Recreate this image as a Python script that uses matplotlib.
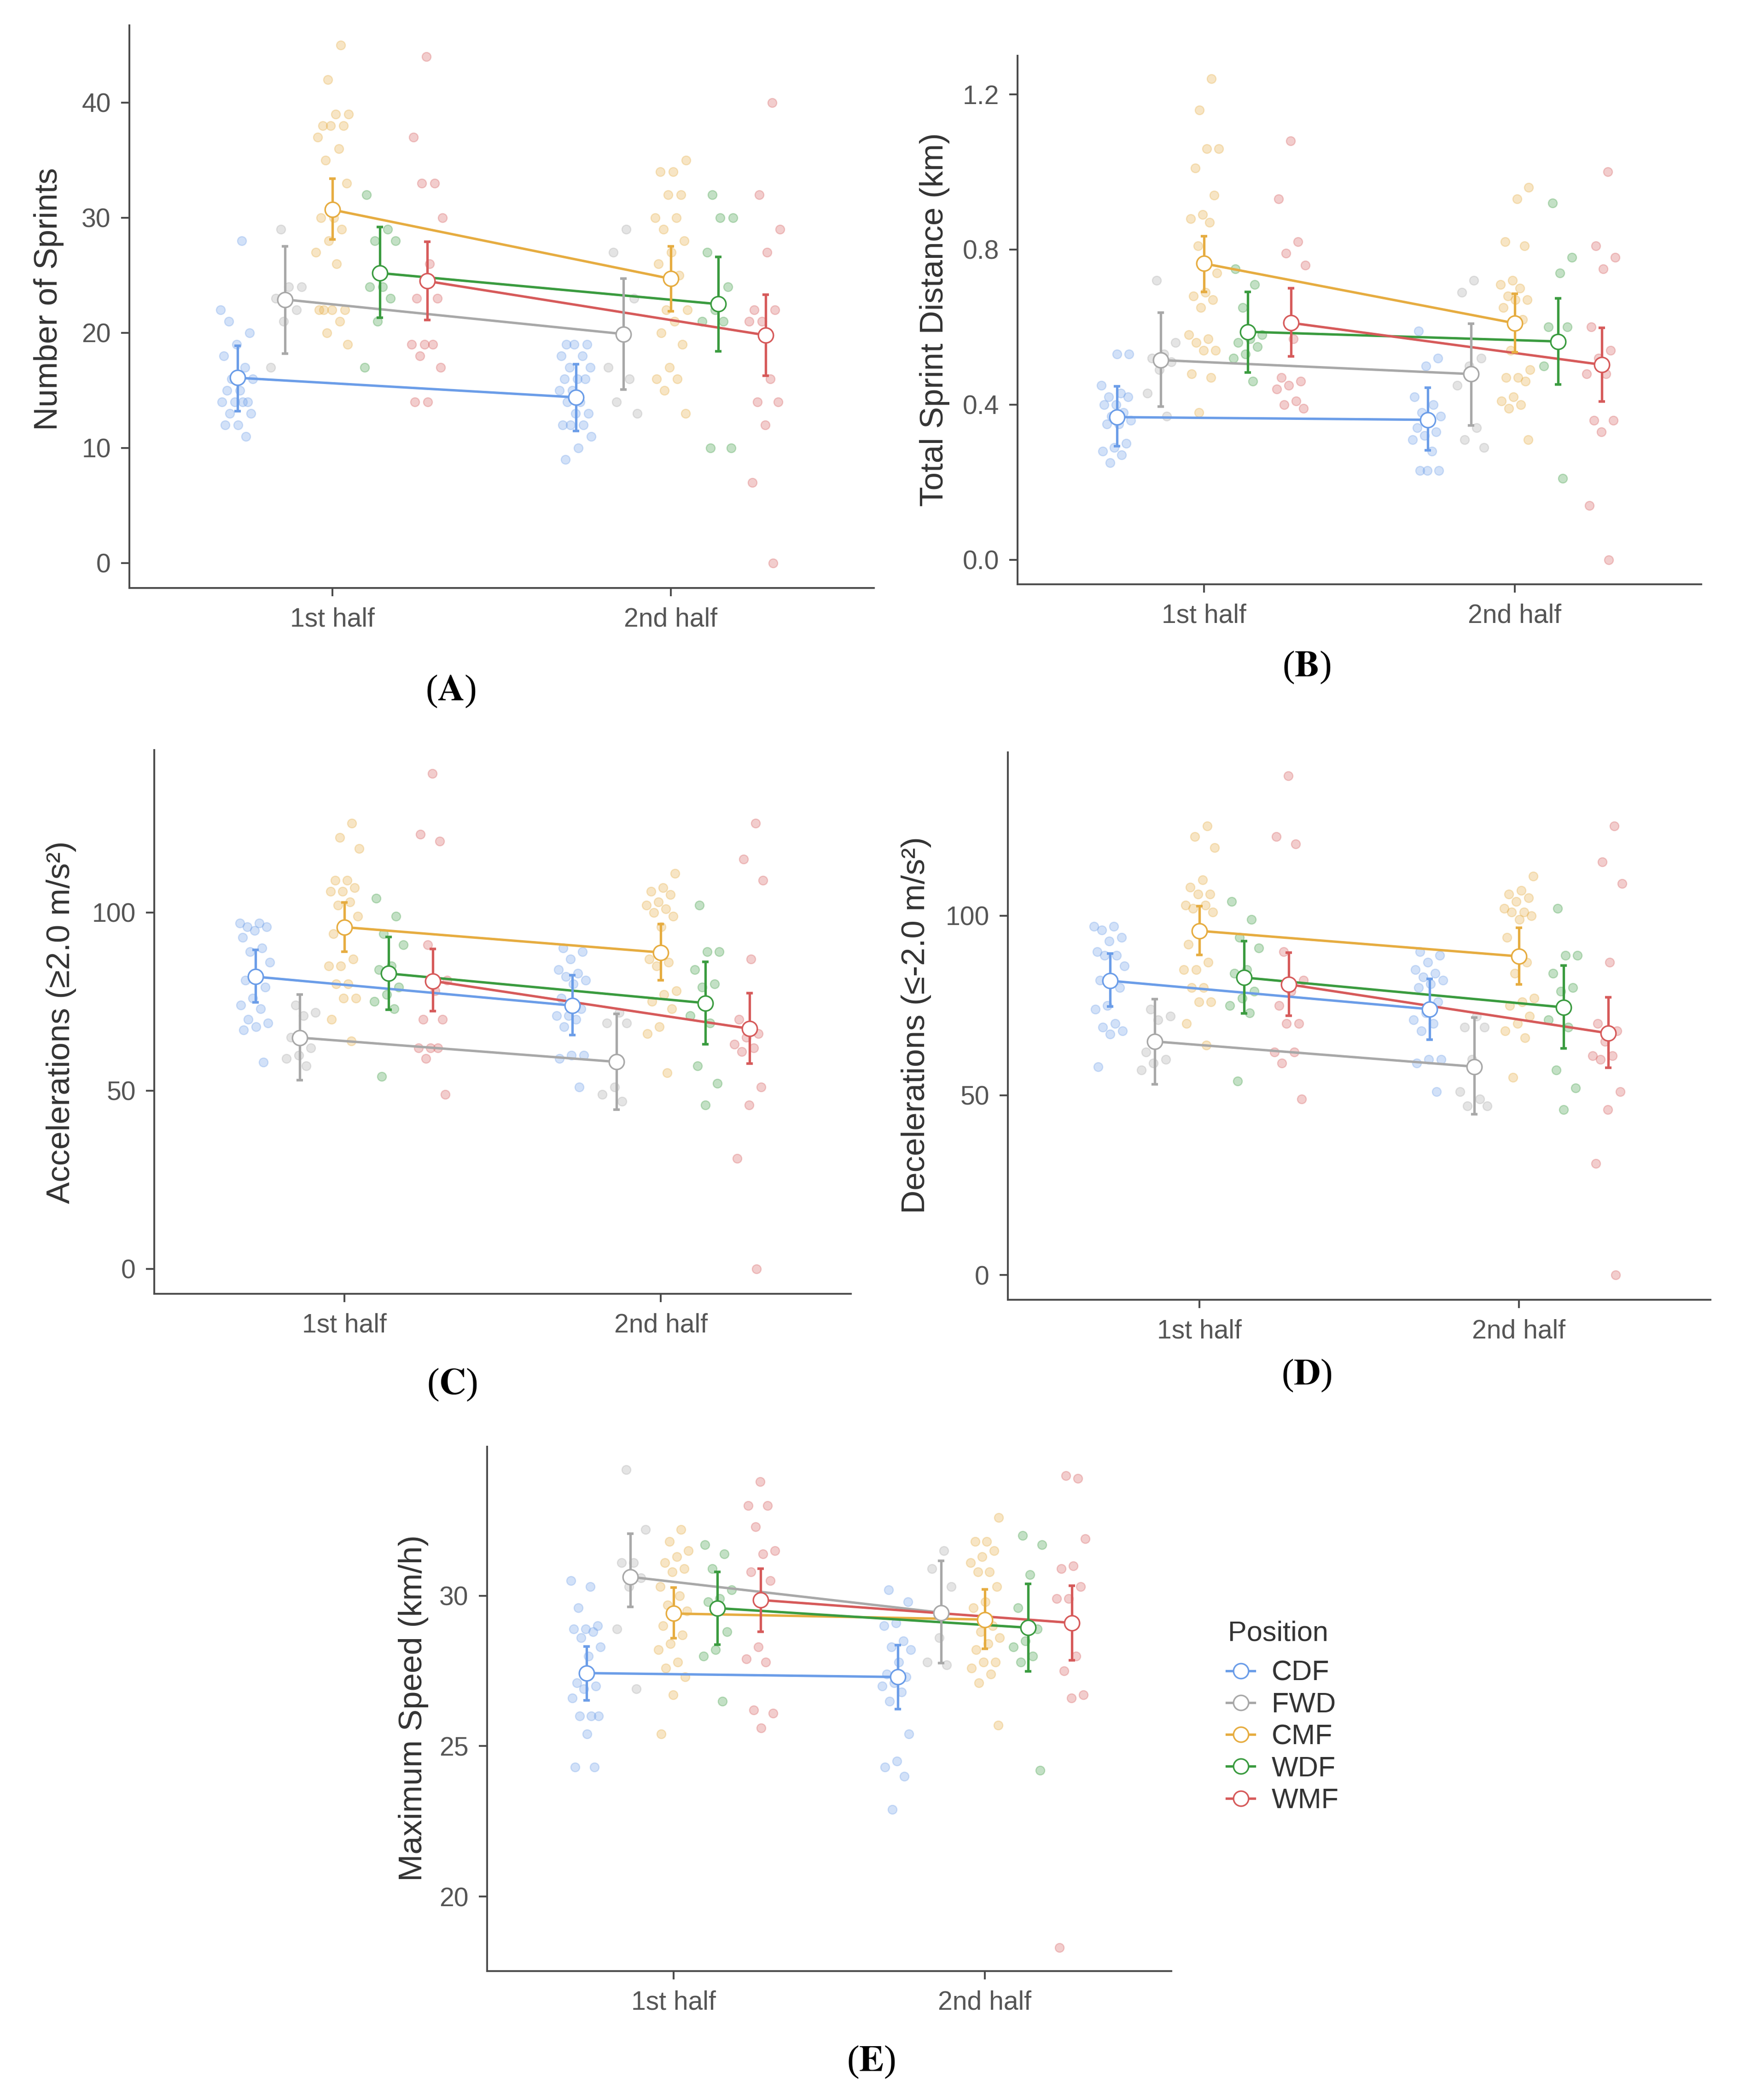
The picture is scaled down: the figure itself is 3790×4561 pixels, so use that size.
import numpy as np
import matplotlib
matplotlib.use("Agg")
import matplotlib.pyplot as plt
from matplotlib.lines import Line2D

plt.rcParams['font.family'] = ['Liberation Sans', 'DejaVu Sans']
plt.rcParams['mathtext.fontset'] = 'stix'

W, H = 3791, 4561

positions = ["CDF", "FWD", "CMF", "WDF", "WMF"]
halves = ["1st half", "2nd half"]
colors = ["#6B9DE8", "#A8A8A8", "#E6AC40", "#3A9B3F", "#D65A5A"]

# ---------------- Panel A: Number of Sprints ----------------
a_mean = [[16.1, 14.4], [22.9, 19.9], [30.7, 24.7], [25.2, 22.5], [24.5, 19.8]]
a_lo = [[13.2, 11.5], [18.2, 15.1], [28.1, 21.9], [21.3, 18.4], [21.1, 16.3]]
a_hi = [[18.9, 17.3], [27.5, 24.7], [33.4, 27.5], [29.2, 26.6], [27.9, 23.3]]
a_pts = {
    "CDF": ([22, 28, 21, 20, 19, 18, 17, 16, 16, 15, 15, 14, 14, 14, 14, 13, 13, 12, 12, 11],
            [19, 19, 19, 18, 18, 17, 17, 16, 16, 16, 15, 15, 14, 14, 13, 13, 12, 12, 12, 11, 10, 9]),
    "FWD": ([29, 24, 24, 23, 22, 21, 17],
            [29, 27, 23, 20, 17, 16, 14, 13]),
    "CMF": ([45, 42, 39, 39, 38, 38, 38, 37, 36, 35, 33, 30, 30, 29, 28, 27, 26, 22, 22, 22, 22, 21, 20, 19],
            [35, 34, 34, 32, 32, 30, 30, 29, 28, 27, 26, 25, 22, 22, 21, 20, 19, 17, 16, 16, 15, 13]),
    "WDF": ([32, 29, 28, 28, 24, 24, 23, 21, 17],
            [32, 30, 30, 27, 24, 22, 21, 21, 10, 10]),
    "WMF": ([44, 37, 33, 33, 30, 26, 23, 23, 19, 19, 19, 18, 17, 14, 14],
            [40, 32, 29, 27, 22, 22, 21, 21, 16, 14, 14, 12, 7, 0]),
}

# ---------------- Panel B: Total Sprint Distance ----------------
b_mean = [[0.368, 0.361], [0.515, 0.479], [0.764, 0.610], [0.588, 0.563], [0.611, 0.503]]
b_lo = [[0.293, 0.283], [0.395, 0.347], [0.691, 0.535], [0.483, 0.452], [0.525, 0.408]]
b_hi = [[0.447, 0.444], [0.637, 0.609], [0.834, 0.686], [0.691, 0.674], [0.700, 0.598]]
b_pts = {
    "CDF": ([0.45, 0.43, 0.42, 0.42, 0.40, 0.40, 0.38, 0.37, 0.36, 0.35, 0.35, 0.30, 0.29, 0.28, 0.27, 0.25, 0.53, 0.53],
            [0.59, 0.52, 0.50, 0.42, 0.40, 0.38, 0.37, 0.36, 0.34, 0.33, 0.32, 0.31, 0.28, 0.23, 0.23, 0.23]),
    "FWD": ([0.72, 0.56, 0.53, 0.52, 0.51, 0.49, 0.43, 0.37],
            [0.72, 0.69, 0.52, 0.50, 0.45, 0.34, 0.31, 0.29]),
    "CMF": ([1.24, 1.16, 1.06, 1.06, 1.01, 0.94, 0.89, 0.88, 0.87, 0.81, 0.74, 0.69, 0.68, 0.67, 0.65, 0.58,
             0.57, 0.56, 0.54, 0.54, 0.48, 0.47, 0.38],
            [0.96, 0.93, 0.82, 0.81, 0.72, 0.71, 0.70, 0.68, 0.67, 0.67, 0.65, 0.62, 0.54, 0.49, 0.47, 0.47,
             0.46, 0.42, 0.41, 0.40, 0.39, 0.31]),
    "WDF": ([0.75, 0.71, 0.65, 0.58, 0.57, 0.56, 0.55, 0.53, 0.52, 0.46],
            [0.92, 0.78, 0.74, 0.60, 0.60, 0.57, 0.50, 0.21]),
    "WMF": ([1.08, 0.93, 0.82, 0.79, 0.76, 0.57, 0.47, 0.46, 0.45, 0.44, 0.41, 0.40, 0.39],
            [1.00, 0.81, 0.78, 0.75, 0.60, 0.54, 0.52, 0.48, 0.48, 0.36, 0.36, 0.33, 0.14, 0.00]),
}

# ---------------- Panel C: Accelerations ----------------
c_mean = [[82.0, 73.9], [64.9, 58.1], [95.9, 88.8], [82.9, 74.6], [80.8, 67.4]]
c_lo = [[74.8, 65.6], [53.0, 44.7], [89.0, 81.0], [72.7, 63.1], [72.3, 57.6]]
c_hi = [[89.5, 82.4], [77.0, 71.6], [102.8, 96.7], [93.2, 86.2], [89.8, 77.4]]
c_pts = {
    "CDF": ([97, 97, 96, 96, 95, 93, 90, 89, 86, 82, 81, 79, 76, 74, 73, 70, 69, 68, 67, 58],
            [90, 89, 87, 84, 83, 82, 81, 80, 76, 73, 71, 71, 70, 68, 60, 60, 59, 51]),
    "FWD": ([74, 72, 71, 65, 62, 60, 59, 57],
            [72, 69, 69, 51, 49, 47]),
    "CMF": ([125, 121, 118, 109, 109, 107, 106, 106, 103, 102, 99, 96, 94, 87, 85, 85, 80, 80, 76, 76, 70, 64],
            [111, 107, 106, 105, 103, 102, 101, 100, 99, 96, 87, 86, 85, 78, 77, 75, 73, 68, 66, 55]),
    "WDF": ([104, 99, 94, 91, 85, 84, 79, 77, 75, 73, 54],
            [102, 89, 89, 84, 80, 79, 71, 69, 57, 52, 46]),
    "WMF": ([139, 122, 120, 91, 81, 78, 70, 70, 62, 62, 62, 59, 49],
            [125, 115, 109, 87, 70, 66, 65, 63, 62, 61, 51, 46, 31, 0]),
}

# ---------------- Panel D: Decelerations ----------------
d_mean = [[81.9, 74.0], [65.0, 58.0], [95.8, 88.7], [82.8, 74.5], [80.9, 67.3]]
d_lo = [[74.8, 65.5], [53.1, 44.7], [89.1, 80.9], [72.8, 63.1], [72.2, 57.7]]
d_hi = [[89.5, 82.4], [76.8, 71.7], [102.7, 96.7], [93.0, 86.2], [89.7, 77.3]]
d_pts = {
    "CDF": ([97, 97, 96, 94, 93, 90, 89, 89, 86, 82, 82, 80, 75, 74, 70, 69, 68, 67, 58],
            [90, 89, 87, 85, 84, 83, 82, 81, 80, 76, 73, 71, 70, 68, 60, 60, 59, 51]),
    "FWD": ([74, 72, 71, 62, 60, 59, 57],
            [72, 69, 69, 60, 51, 49, 47, 47]),
    "CMF": ([125, 122, 119, 110, 108, 106, 106, 103, 103, 102, 101, 96, 92, 87, 85, 85, 80, 80, 76, 76, 70, 64],
            [111, 107, 106, 105, 104, 102, 101, 101, 100, 99, 94, 87, 84, 77, 76, 75, 72, 70, 68, 66, 55]),
    "WDF": ([104, 99, 94, 91, 85, 84, 79, 77, 75, 73, 54],
            [102, 89, 89, 84, 80, 79, 71, 69, 57, 52, 46]),
    "WMF": ([139, 122, 120, 90, 82, 79, 75, 70, 70, 62, 62, 59, 49],
            [125, 115, 109, 87, 70, 68, 65, 61, 61, 60, 51, 46, 31, 0]),
}

# ---------------- Panel E: Maximum Speed ----------------
e_mean = [[27.43, 27.30], [30.63, 29.44], [29.41, 29.21], [29.59, 28.94], [29.86, 29.10]]
e_lo = [[26.53, 26.24], [29.63, 27.76], [28.59, 28.24], [28.37, 27.49], [28.81, 27.86]]
e_hi = [[28.31, 28.36], [32.06, 31.16], [30.27, 30.21], [30.80, 30.39], [30.91, 30.34]]
e_pts = {
    "CDF": ([30.5, 30.3, 29.6, 29.0, 28.9, 28.9, 28.8, 28.6, 28.3, 28.0, 27.1, 27.0, 26.9, 26.6, 26.0, 26.0,
             26.0, 25.4, 24.3, 24.3],
            [30.2, 29.8, 29.1, 29.0, 28.5, 28.3, 28.2, 27.8, 27.4, 27.3, 27.1, 27.0, 26.8, 26.5, 25.4, 24.5,
             24.3, 24.0, 22.9]),
    "FWD": ([34.2, 32.2, 31.1, 31.1, 30.6, 30.3, 28.9, 26.9],
            [31.5, 30.9, 30.3, 28.6, 27.8, 27.7]),
    "CMF": ([32.2, 31.8, 31.5, 31.3, 31.1, 30.9, 30.8, 30.3, 30.0, 29.7, 29.5, 29.4, 29.0, 28.7, 28.4, 28.2,
             27.8, 27.6, 27.3, 26.7, 25.4],
            [32.6, 31.8, 31.8, 31.5, 31.3, 31.1, 30.8, 30.8, 30.3, 29.8, 29.6, 29.0, 28.8, 28.6, 28.4, 28.2,
             27.8, 27.8, 27.6, 27.4, 27.1, 25.7]),
    "WDF": ([31.7, 31.4, 30.9, 30.2, 29.9, 29.8, 28.8, 28.2, 28.0, 26.5],
            [32.0, 31.7, 30.7, 29.6, 28.9, 28.5, 28.3, 28.0, 27.8, 24.2]),
    "WMF": ([33.8, 33.0, 33.0, 32.3, 31.5, 31.4, 30.8, 30.5, 28.3, 27.9, 27.8, 26.2, 26.1, 25.6],
            [33.9, 34.0, 31.9, 31.0, 30.9, 30.3, 29.9, 29.9, 28.0, 27.5, 26.7, 26.6, 18.3]),
}

a_yticks = [0, 10, 20, 30, 40]
b_yticks = [0.0, 0.4, 0.8, 1.2]
c_yticks = [0, 50, 100]
d_yticks = [0, 50, 100]
e_yticks = [20, 25, 30]

fig = plt.figure(figsize=(W / 100, H / 100), dpi=100)

SPINE_C = "#4A4A4A"
TICKLAB_C = "#555555"
TITLE_C = "#333333"
LW = 3.8
MS = 23.5
MEW = 2.4


def draw_panel(box, mean, lo, hi, pts, ylim, yticks, yfmt, ylabel, ylab_xy, tag, tag_xy):
    l, r, t, b = box
    ax = fig.add_axes([l / W, 1 - b / H, (r - l) / W, (b - t) / H])
    dodge = 0.14
    jw = 0.05
    for k, pos in enumerate(positions):
        c = colors[k]
        off = (k - 2) * dodge
        xm = []
        for h in range(2):
            xc = h + 1 + off
            vals = np.asarray(pts[pos][h], float)
            n = len(vals)
            jit = ((np.arange(n) * 0.6180339887 + 0.37 * k + 0.21 * h) % 1.0 - 0.5) * 2 * jw
            ax.scatter(xc + jit, vals, s=190, color=c, alpha=0.3, linewidths=1.8,
                       edgecolors=c, zorder=1)
            xm.append(xc)
        m = np.asarray(mean[k], float)
        ax.plot(xm, m, color=c, lw=LW, zorder=2)
        yerr = [m - np.asarray(lo[k]), np.asarray(hi[k]) - m]
        ax.errorbar(xm, m, yerr=yerr, fmt='none', ecolor=c, elinewidth=LW,
                    capsize=5.0, capthick=4.0, zorder=3)
        ax.plot(xm, m, ls='none', marker='o', ms=MS, mfc='white', mec=c, mew=MEW, zorder=4)

    ax.set_xlim(0.4, 2.6)
    ax.set_ylim(*ylim)
    ax.set_xticks([1, 2])
    ax.set_xticklabels(halves)
    ax.set_yticks(yticks)
    ax.set_yticklabels([yfmt.format(v) for v in yticks])
    for s in ["top", "right"]:
        ax.spines[s].set_visible(False)
    for s in ["left", "bottom"]:
        ax.spines[s].set_color(SPINE_C)
        ax.spines[s].set_linewidth(2.8)
    ax.tick_params(axis='both', length=13, width=2.8, color=SPINE_C,
                   labelsize=41, labelcolor=TICKLAB_C)
    ax.tick_params(axis='y', pad=16)
    ax.tick_params(axis='x', pad=17)
    fig.text(ylab_xy[0] / W, 1 - ylab_xy[1] / H, ylabel, rotation=90, ha='center', va='center',
             fontsize=51, color=TITLE_C)
    fig.text(tag_xy[0] / W, 1 - tag_xy[1] / H, r'($\mathbf{' + tag + '}$)', ha='center', va='center',
             fontsize=58, family='Liberation Serif', color='black')
    return ax


draw_panel((281, 1898, 55, 1277), a_mean, a_lo, a_hi, a_pts, (-2.16, 46.72), a_yticks, "{:.0f}",
           "Number of Sprints", (106, 650), "A", (979, 1502))
draw_panel((2210, 3695, 121, 1269), b_mean, b_lo, b_hi, b_pts, (-0.063, 1.2997), b_yticks, "{:.1f}",
           "Total Sprint Distance (km)", (2030, 694), "B", (2838, 1450))
draw_panel((335, 1848, 1629, 2810), c_mean, c_lo, c_hi, c_pts, (-6.98, 145.6), c_yticks, "{:.0f}",
           "Accelerations (≥2.0 m/s²)", (133, 2220), "C", (982, 3008))
draw_panel((2189, 3715, 1634, 2823), d_mean, d_lo, d_hi, d_pts, (-6.92, 145.5), d_yticks, "{:.0f}",
           "Decelerations (≤-2.0 m/s²)", (1990, 2227), "D", (2838, 2988))
draw_panel((1058, 2544, 3142, 4281), e_mean, e_lo, e_hi, e_pts, (17.52, 34.96), e_yticks, "{:.0f}",
           "Maximum Speed (km/h)", (898, 3710), "E", (1892, 4479))

# Legend
handles = [Line2D([0], [0], color=c, lw=LW, marker='o', ms=MS, mfc='white', mec=c, mew=MEW)
           for c in colors]
fig.legend(handles, positions, loc='upper left', bbox_to_anchor=(2664 / W, 1 - 3606 / H),
           frameon=False, fontsize=44, labelcolor=TITLE_C, handlelength=1.0, handletextpad=0.6,
           labelspacing=0.2, borderpad=0, borderaxespad=0, numpoints=1)
fig.text(2667 / W, 1 - 3563 / H, "Position", ha='left', va='baseline', fontsize=44, color=TITLE_C)

fig.savefig("out.png", dpi=100)
